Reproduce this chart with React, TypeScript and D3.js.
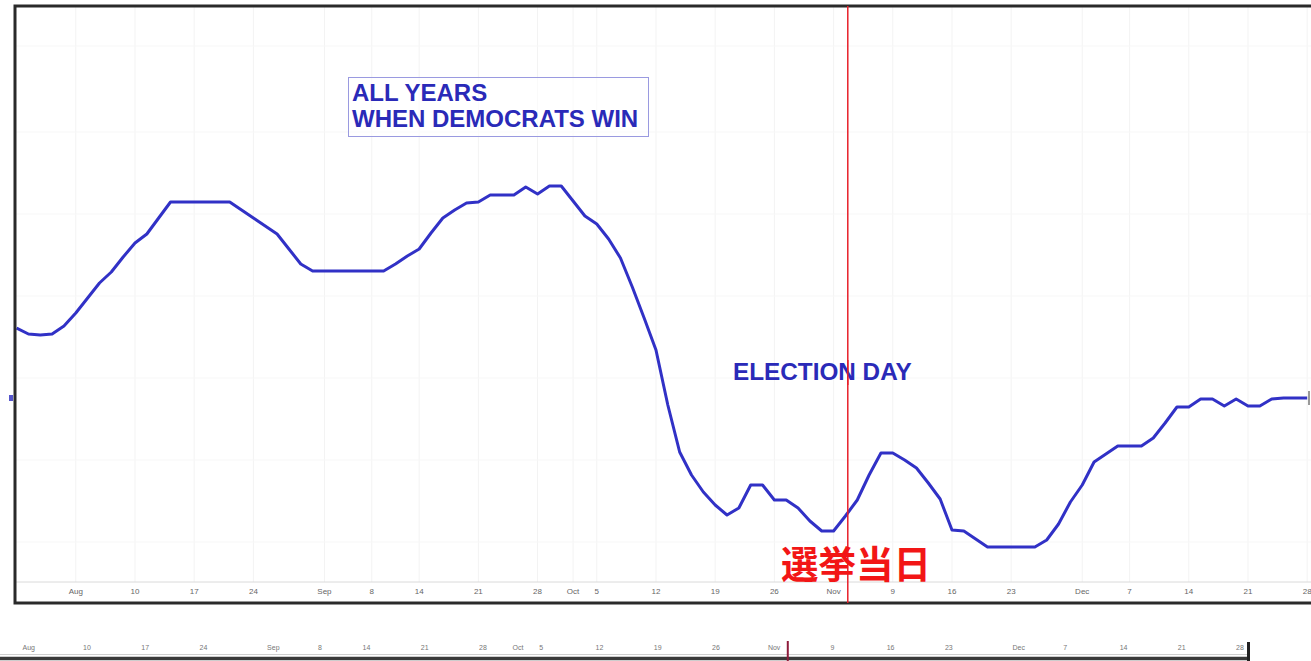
import React from "react";
import * as d3 from "d3";

// ---- DATA ----
const startDate = new Date(2015, 6, 27);
const endDate = new Date(2015, 11, 31);
const holidays = ["2015-09-07"];
const electionDay = "2015-11-03";

// seasonal index value for each trading day (Jul 27 .. Dec 28)
const seasonalValues = [
  1.75, 1.6, 1.575, 1.6, 1.8, 2.125, 2.5, 2.875, 3.15, 3.525, 3.875, 4.1, 4.5,
  4.9, 4.9, 4.9, 4.9, 4.9, 4.9,
  4.7, 4.5, 4.3, 4.1, 3.725, 3.35,
  3.175, 3.175, 3.175, 3.175, 3.175, 3.175, 3.175,
  3.35, 3.55, 3.725, 4.125, 4.5, 4.7, 4.875, 4.9,
  5.075, 5.075, 5.075,
  5.275, 5.1, 5.3, 5.3, 4.925, 4.55, 4.35, 3.975, 3.5, 2.775, 2.0, 1.2,
  -0.175, -1.35, -1.925, -2.35, -2.675, -2.925, -2.75, -2.175, -2.175, -2.55, -2.55, -2.75,
  -3.075, -3.325, -3.325, -2.95, -2.55, -1.925, -1.375, -1.375, -1.55, -1.75, -2.125, -2.525,
  -3.3, -3.325, -3.525,
  -3.725, -3.725, -3.725, -3.725, -3.725,
  -3.55, -3.15, -2.6, -2.175, -1.6, -1.4,
  -1.2, -1.2, -1.2,
  -1.0, -0.625, -0.225, -0.225, -0.025, -0.025, -0.2, -0.025, -0.2, -0.2, -0.025, 0, 0, 0,
];

const tickDates = [
  "2015-08-03", "2015-08-10", "2015-08-17", "2015-08-24", "2015-09-01", "2015-09-08",
  "2015-09-14", "2015-09-21", "2015-09-28", "2015-10-01", "2015-10-05", "2015-10-12",
  "2015-10-19", "2015-10-26", "2015-11-02", "2015-11-09", "2015-11-16", "2015-11-23",
  "2015-12-01", "2015-12-07", "2015-12-14", "2015-12-21", "2015-12-28",
];
const tickLabels = [
  "Aug", "10", "17", "24", "Sep", "8", "14", "21", "28", "Oct", "5", "12",
  "19", "26", "Nov", "9", "16", "23", "Dec", "7", "14", "21", "28",
];

const gridValues = [-3.6, -1.55, 0.5, 2.55, 4.6, 6.65, 8.8];

const titleLines = ["ALL YEARS", "WHEN DEMOCRATS WIN"];
const electionLabel = "ELECTION DAY";
const jpLabel = "選挙当日";

// ---- HELPERS ----
const fmt = d3.timeFormat("%Y-%m-%d");
const tradingDays = d3
  .timeDay.range(startDate, endDate)
  .filter((d) => d.getDay() !== 0 && d.getDay() !== 6 && !holidays.includes(fmt(d)));
const dayIndex = (s: string) => tradingDays.findIndex((d) => fmt(d) === s);

const W = 1311;
const H = 661;

export default function App() {
  const x = d3.scaleLinear().domain([10, 109]).range([135, 1307.2]);
  const xNav = d3.scaleLinear().domain([10, 109]).range([87, 1240]);
  const y = d3.scaleLinear().domain([-4.6, 9.8]).range([582, 6]);

  const pts = seasonalValues.map((v, i) => [i, v] as [number, number]);
  const line = d3
    .line<[number, number]>()
    .x((d) => x(d[0]))
    .y((d) => y(d[1]))
    .curve(d3.curveLinear);

  const eIdx = dayIndex(electionDay);
  const eX = x(eIdx + 0.2);
  const ticks = tickDates.map((s, k) => ({ i: dayIndex(s), label: tickLabels[k] }));
  const lastIdx = seasonalValues.length - 1;
  const lastY = y(seasonalValues[lastIdx]);

  const blue = "#3131c6";
  const textBlue = "#2a2ab8";

  return (
    <svg
      width={W}
      height={H}
      style={{ position: "absolute", left: 0, top: 0, display: "block", background: "#fff" }}
      fontFamily="'Liberation Sans', Arial, sans-serif"
    >
      <defs>
        <clipPath id="plotClip">
          <rect x={16} y={7} width={W} height={596} />
        </clipPath>
      </defs>

      {/* faint gridlines */}
      <g clipPath="url(#plotClip)">
        {ticks.map((t) => (
          <line key={"vg" + t.i} x1={x(t.i)} x2={x(t.i)} y1={6} y2={582} stroke="#f3f3f3" strokeWidth={1} />
        ))}
        {gridValues.map((g) => (
          <line key={"hg" + g} x1={16} x2={W} y1={y(g)} y2={y(g)} stroke="#f7f7f7" strokeWidth={1} />
        ))}
      </g>

      {/* inner axis line */}
      <line x1={16} x2={W} y1={582} y2={582} stroke="#dadada" strokeWidth={1} />

      {/* tick labels main */}
      {ticks.map((t) => (
        <text key={"tl" + t.i} x={x(t.i)} y={594} fontSize={8} fill="#666" textAnchor="middle">
          {t.label}
        </text>
      ))}

      {/* series line */}
      <g clipPath="url(#plotClip)">
        <path d={line(pts) || ""} fill="none" stroke={blue} strokeWidth={3} strokeLinejoin="round" />
      </g>

      {/* end markers */}
      <rect x={9} y={lastY - 3} width={4} height={6} fill="#5555cc" />
      <rect x={1308} y={lastY - 7} width={2} height={14} fill="#999" />

      {/* frame */}
      <rect x={15} y={6} width={W + 20} height={597} fill="none" stroke="#2a2a2a" strokeWidth={3} />

      {/* election day line */}
      <line x1={eX} x2={eX} y1={6} y2={603} stroke="#e8202a" strokeWidth={1.5} />

      {/* title box */}
      <rect x={348.5} y={77.5} width={300} height={59} fill="#fff" fillOpacity={0.6} stroke="#9a9ae0" strokeWidth={1} />
      {titleLines.map((t, k) => (
        <text key={t} x={352} y={101 + k * 26} fontSize={24} fontWeight="bold" fill={textBlue}>
          {t}
        </text>
      ))}

      {/* election day label */}
      <text x={733} y={380} fontSize={24.3} fontWeight="bold" fill={textBlue}>
        {electionLabel}
      </text>
      <line x1={eX} x2={eX} y1={360} y2={385} stroke="#e8202a" strokeWidth={1.5} />

      {/* Japanese caption */}
      <text
        x={781}
        y={578}
        fontSize={37.5}
        fontWeight="bold"
        fill="#f21616"
        fontFamily="'Noto Sans CJK JP', sans-serif"
      >
        {jpLabel}
      </text>

      {/* navigator strip */}
      {ticks.map((t) => (
        <text key={"nl" + t.i} x={xNav(t.i)} y={650} fontSize={7} fill="#777" textAnchor="middle">
          {t.label}
        </text>
      ))}
      <line x1={0} x2={1250} y1={654.5} y2={654.5} stroke="#cfcfcf" strokeWidth={1} />
      <line x1={0} x2={1250} y1={658.5} y2={658.5} stroke="#3a3a3a" strokeWidth={3.5} />
      <line x1={xNav(eIdx) + 2} x2={xNav(eIdx) + 2} y1={641} y2={661} stroke="#8e1c3c" strokeWidth={2} />
      <rect x={xNav(lastIdx) + 7} y={642} width={3} height={19} fill="#222" />
    </svg>
  );
}
